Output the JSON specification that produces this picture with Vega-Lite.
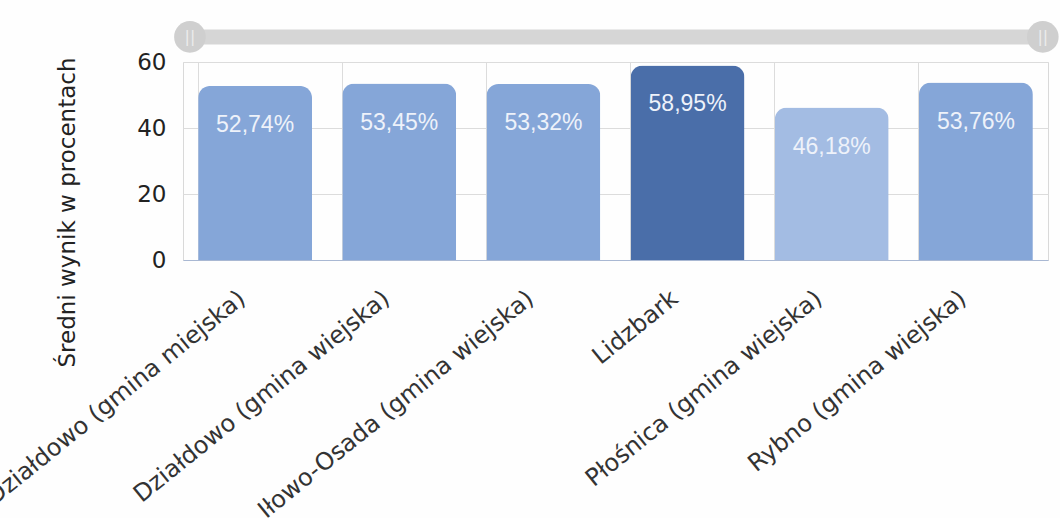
{
  "$schema": "https://vega.github.io/schema/vega-lite/v6.json",
  "autosize": "none",
  "width": 865,
  "height": 198,
  "padding": {"left": 183, "top": 62, "right": 12, "bottom": 258},
  "background": "#fefefe",
  "config": {
    "font": "DejaVu Sans",
    "view": {"stroke": "#d9d9d9"}
  },
  "resolve": {"scale": {"x": "independent"}, "axis": {"x": "independent"}},
  "layer": [
    {
      "data": {
        "values": [
          {"gmina": "Działdowo (gmina miejska)", "wynik": 52.74},
          {"gmina": "Działdowo (gmina wiejska)", "wynik": 53.45},
          {"gmina": "Iłowo-Osada (gmina wiejska)", "wynik": 53.32},
          {"gmina": "Lidzbark", "wynik": 58.95},
          {"gmina": "Płośnica (gmina wiejska)", "wynik": 46.18},
          {"gmina": "Rybno (gmina wiejska)", "wynik": 53.76}
        ]
      },
      "transform": [
        {"calculate": "replace(format(datum.wynik, '.2f'), '.', ',') + '%'", "as": "etykieta"}
      ],
      "encoding": {
        "x": {
          "field": "gmina",
          "type": "nominal",
          "sort": null,
          "title": null,
          "scale": {"paddingInner": 0.21, "paddingOuter": 0.105},
          "axis": {
            "labelAngle": -39,
            "labelFontSize": 24,
            "labelColor": "#333333",
            "labelPadding": 26,
            "labelOffset": -20,
            "labelLimit": 500,
            "ticks": false,
            "domainColor": "#a9b8d3",
            "grid": true,
            "gridColor": "#dcdcdc",
            "bandPosition": 0
          }
        },
        "y": {
          "field": "wynik",
          "type": "quantitative",
          "scale": {"domain": [0, 60], "nice": false},
          "title": "Średni wynik w procentach",
          "axis": {
            "values": [0, 20, 40, 60],
            "labelFontSize": 23,
            "labelColor": "#222222",
            "labelPadding": 17,
            "ticks": false,
            "domain": false,
            "gridColor": "#dcdcdc",
            "titleFontSize": 23,
            "titleFontWeight": "normal",
            "titleColor": "#222222",
            "titleX": -104,
            "titleY": 150,
            "titleAlign": "center"
          }
        }
      },
      "layer": [
        {
          "mark": {"type": "bar", "cornerRadiusTopLeft": 12, "cornerRadiusTopRight": 12},
          "encoding": {
            "color": {
              "field": "wynik",
              "type": "quantitative",
              "scale": {"type": "threshold", "domain": [50, 56], "range": ["#a3bce3", "#85a6d8", "#4a6ea9"]},
              "legend": null
            }
          }
        },
        {
          "mark": {"type": "text", "baseline": "middle", "dy": 39, "font": "Liberation Sans", "fontSize": 23, "color": "#eef2fa"},
          "encoding": {
            "text": {"field": "etykieta", "type": "nominal"}
          }
        }
      ]
    },
    {
      "data": {"values": [{"od": 0.02, "do": 0.98}]},
      "mark": {"type": "rule", "strokeWidth": 15, "strokeCap": "round", "color": "#d6d6d6"},
      "encoding": {
        "x": {"field": "od", "type": "quantitative", "scale": {"domain": [0, 1]}, "axis": null},
        "x2": {"field": "do"},
        "y": {"datum": 67.6}
      }
    },
    {
      "data": {"values": [{"uchwyt": 0.008}, {"uchwyt": 0.994}]},
      "mark": {"type": "circle", "size": 1000, "color": "#cfcfcf", "opacity": 1},
      "encoding": {
        "x": {"field": "uchwyt", "type": "quantitative", "scale": {"domain": [0, 1]}, "axis": null},
        "y": {"datum": 67.6}
      }
    },
    {
      "data": {"values": [{"uchwyt": 0.008}, {"uchwyt": 0.994}]},
      "mark": {"type": "text", "text": "||", "fontSize": 16, "color": "#ececec", "baseline": "middle"},
      "encoding": {
        "x": {"field": "uchwyt", "type": "quantitative", "scale": {"domain": [0, 1]}, "axis": null},
        "y": {"datum": 67.6}
      }
    }
  ]
}
